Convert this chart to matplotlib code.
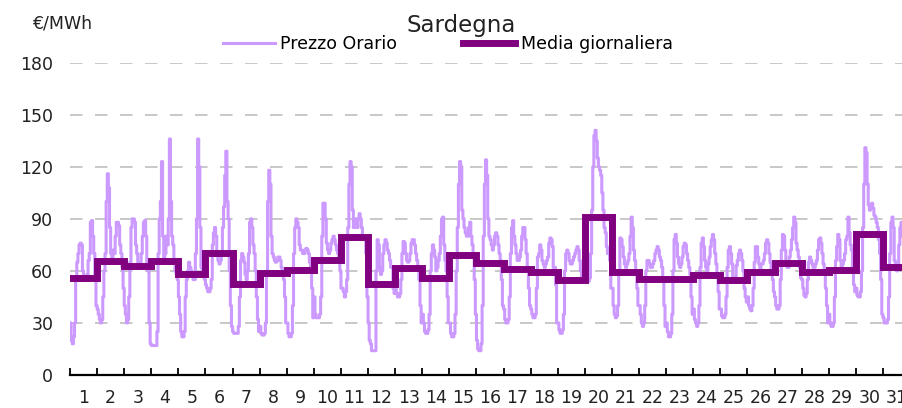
import numpy as np
import matplotlib
matplotlib.use("Agg")
import matplotlib.pyplot as plt

plt.rcParams['font.family'] = ['DejaVu Sans']
plt.rcParams['lines.scale_dashes'] = False

title = "Sardegna"
unit_label = "€/MWh"
series_hourly = "Prezzo Orario"
series_daily = "Media giornaliera"
day_labels = [str(d) for d in range(1, 32)]
y_ticks = [0, 30, 60, 90, 120, 150, 180]

# Hourly prices (EUR/MWh), one list per day, 24 hours each
day01 = [30, 20, 18, 22, 30, 55, 65, 70, 75, 76, 75, 60, 55, 56, 55, 58, 66, 70, 88, 89, 80, 70, 55, 40]
day02 = [38, 35, 32, 30, 32, 45, 60, 70, 100, 116, 108, 85, 70, 65, 72, 70, 80, 88, 88, 86, 75, 70, 62, 50]
day03 = [40, 35, 30, 32, 45, 65, 85, 90, 90, 88, 75, 70, 65, 62, 65, 70, 80, 88, 89, 80, 65, 60, 30, 18]
day04 = [17, 17, 17, 17, 17, 25, 70, 90, 100, 123, 80, 65, 70, 80, 75, 90, 136, 100, 80, 75, 65, 60, 58, 55]
day05 = [45, 35, 25, 22, 22, 25, 45, 55, 60, 65, 62, 60, 58, 55, 55, 70, 90, 136, 120, 85, 62, 60, 58, 55]
day06 = [52, 50, 48, 48, 50, 55, 75, 82, 85, 80, 70, 66, 64, 66, 70, 85, 97, 115, 129, 100, 90, 60, 40, 28]
day07 = [25, 24, 24, 24, 24, 28, 45, 66, 70, 68, 65, 58, 55, 60, 70, 88, 90, 85, 75, 70, 60, 45, 32, 25]
day08 = [28, 24, 23, 23, 24, 30, 60, 100, 118, 110, 80, 70, 68, 66, 65, 66, 68, 68, 66, 62, 60, 55, 45, 30]
day09 = [30, 24, 22, 22, 24, 40, 70, 85, 90, 88, 85, 75, 72, 72, 70, 70, 72, 73, 72, 70, 65, 62, 50, 33]
day10 = [45, 35, 33, 33, 33, 35, 45, 80, 99, 99, 90, 76, 72, 70, 72, 76, 78, 80, 78, 75, 72, 70, 66, 60]
day11 = [50, 50, 48, 45, 48, 55, 85, 110, 123, 120, 95, 85, 88, 90, 85, 90, 93, 90, 85, 80, 80, 78, 70, 45]
day12 = [30, 20, 18, 14, 14, 14, 14, 60, 78, 75, 62, 58, 60, 70, 75, 78, 76, 72, 70, 66, 62, 62, 50, 47]
day13 = [50, 47, 45, 45, 47, 55, 70, 77, 76, 70, 66, 65, 66, 70, 76, 78, 78, 75, 70, 66, 62, 55, 40, 30]
day14 = [35, 30, 25, 24, 24, 26, 35, 60, 70, 75, 72, 68, 60, 62, 66, 70, 80, 90, 91, 75, 66, 60, 45, 30]
day15 = [30, 24, 22, 22, 24, 35, 60, 85, 110, 123, 120, 95, 90, 85, 82, 80, 80, 85, 88, 80, 75, 70, 55, 35]
day16 = [20, 15, 14, 14, 18, 40, 80, 110, 124, 115, 90, 80, 78, 75, 72, 75, 80, 82, 80, 75, 70, 66, 55, 40]
day17 = [38, 32, 30, 30, 32, 45, 70, 85, 89, 80, 75, 70, 66, 66, 68, 72, 80, 85, 85, 78, 70, 62, 50, 40]
day18 = [38, 35, 33, 33, 35, 50, 68, 70, 75, 72, 66, 64, 62, 64, 66, 68, 76, 79, 78, 74, 62, 62, 52, 30]
day19 = [30, 26, 24, 24, 26, 35, 60, 70, 72, 70, 66, 64, 64, 66, 68, 70, 72, 74, 72, 66, 60, 56, 55, 55]
day20 = [58, 55, 55, 54, 56, 70, 95, 120, 138, 141, 135, 125, 120, 118, 115, 105, 95, 85, 82, 74, 70, 72, 66, 50]
day21 = [50, 40, 35, 33, 34, 40, 60, 79, 78, 74, 68, 64, 62, 64, 66, 70, 80, 91, 85, 72, 66, 60, 50, 40]
day22 = [40, 35, 30, 28, 30, 40, 60, 66, 66, 64, 62, 62, 64, 66, 70, 72, 74, 72, 68, 66, 62, 55, 40, 28]
day23 = [30, 25, 22, 22, 24, 35, 60, 78, 81, 76, 68, 64, 62, 64, 68, 74, 76, 75, 70, 66, 62, 58, 45, 35]
day24 = [38, 32, 30, 28, 30, 40, 62, 76, 79, 74, 66, 62, 60, 64, 68, 74, 78, 81, 78, 70, 64, 58, 48, 38]
day25 = [38, 34, 33, 33, 35, 45, 62, 72, 74, 70, 64, 56, 54, 55, 63, 66, 70, 72, 70, 66, 60, 50, 45, 42]
day26 = [45, 40, 38, 37, 40, 50, 65, 74, 74, 68, 64, 60, 64, 64, 66, 70, 76, 78, 76, 70, 65, 60, 55, 48]
day27 = [45, 40, 38, 38, 40, 55, 72, 81, 80, 72, 64, 62, 62, 68, 72, 78, 85, 91, 88, 76, 72, 68, 62, 56]
day28 = [55, 50, 46, 45, 47, 55, 65, 68, 66, 64, 62, 62, 64, 66, 72, 78, 79, 76, 70, 64, 58, 50, 40, 30]
day29 = [35, 30, 28, 28, 30, 45, 66, 74, 81, 78, 66, 62, 64, 66, 70, 78, 80, 91, 82, 75, 72, 60, 52, 48]
day30 = [50, 46, 45, 45, 48, 60, 85, 110, 131, 128, 110, 98, 95, 98, 99, 96, 92, 91, 88, 85, 78, 70, 55, 35]
day31 = [33, 30, 30, 30, 32, 45, 70, 88, 91, 85, 66, 62, 60, 64, 75, 85, 88, 80, 75, 70, 65, 60, 55, 50]

# Daily averages (EUR/MWh)
daily_avg = [56, 65.8, 63, 65.8, 58.5, 70.6, 52.7, 58.8, 60.4, 66, 79.6, 52.7, 61.7, 56, 69.4,
             64.6, 61.3, 59.4, 54.6, 91, 59.4, 55.6, 55.6, 57.5, 54.6, 59.4, 64.6, 59.4, 60.4, 81.5, 62.3]

days = [day01, day02, day03, day04, day05, day06, day07, day08, day09, day10, day11, day12,
        day13, day14, day15, day16, day17, day18, day19, day20, day21, day22, day23, day24,
        day25, day26, day27, day28, day29, day30, day31]
hourly = np.concatenate([np.array(d, dtype=float) for d in days])
hours = np.arange(len(hourly)) + 0.5
n_days = len(days)

light = "#CC99FF"
dark = "#800080"

W, H = 902, 408
fig = plt.figure(figsize=(W / 100, H / 100), dpi=100)
ax_left, ax_right = 70, 910
ax_top, ax_bottom = 62.7, 375
ax = fig.add_axes([ax_left / W, 1 - ax_bottom / H, (ax_right - ax_left) / W, (ax_bottom - ax_top) / H])

ax.plot(hours, hourly, color=light, lw=2.2, drawstyle="steps-mid", label=series_hourly, zorder=3)
step_x = np.arange(n_days + 1) * 24
step_y = list(daily_avg) + [daily_avg[-1]]
ax.plot(step_x, step_y, drawstyle="steps-post", color=dark, lw=5, label=series_daily, zorder=4,
        solid_joinstyle="miter")

ax.set_xlim(0, n_days * 24)
ax.set_ylim(0, 180)
ax.set_yticks(y_ticks)
ax.tick_params(axis="y", length=0, pad=12, labelsize=12.5, labelcolor="#222222")
for yt in y_ticks[1:]:
    ax.axhline(yt, color="#BFBFBF", lw=1.2, linestyle=(0, (9, 9)), zorder=1)

ax.set_xticks(step_x)
ax.set_xticklabels([""] * len(step_x))
ax.set_xticks(np.arange(n_days) * 24 + 12, minor=True)
ax.set_xticklabels(day_labels, minor=True)
ax.tick_params(axis="x", which="major", direction="in", length=5, width=1.3, color="black")
ax.tick_params(axis="x", which="minor", length=0, pad=10, labelsize=12.5, labelcolor="#222222")

for s in ["top", "right", "left"]:
    ax.spines[s].set_visible(False)
ax.spines["bottom"].set_linewidth(1.6)
ax.spines["bottom"].set_color("black")

fig.text(461 / W, 1 - 32 / H, title, ha="center", va="baseline", fontsize=16.5, color="#222222")
fig.text(32 / W, 1 - 28 / H, unit_label, ha="left", va="baseline", fontsize=12.5, color="#222222")

fig.legend(loc="center left", bbox_to_anchor=(223 / W, 1 - 44 / H), ncol=2, frameon=False,
           borderpad=0, handlelength=3.0, handletextpad=0.3, columnspacing=3.8,
           fontsize=12.5, borderaxespad=0)

fig.savefig("out.png", dpi=100)
